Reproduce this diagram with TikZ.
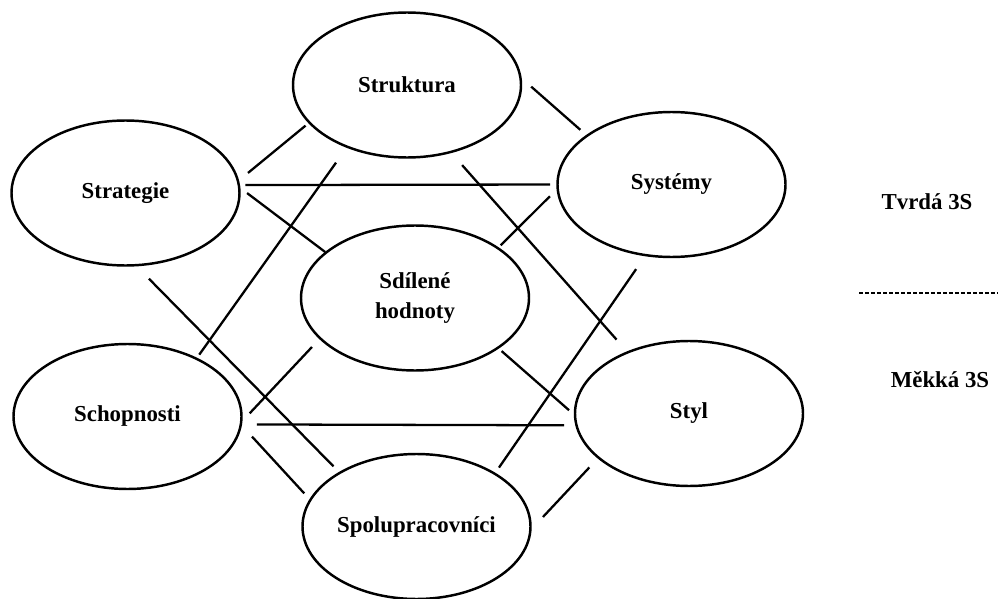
\documentclass[tikz,border=0pt]{standalone}
\usepackage{fontspec}
\setmainfont{Liberation Serif}
\usetikzlibrary{shapes.geometric}

\begin{document}
\begin{tikzpicture}[
    oval/.style={ellipse, draw, line width=1.4pt, minimum width=4.56cm, minimum height=2.9cm, inner sep=0pt, outer sep=0pt, font=\bfseries\fontsize{13}{17}\selectfont, align=center},
    conn/.style={line width=1.3pt},
    side/.style={font=\bfseries\fontsize{13}{15}\selectfont}
  ]
  \useasboundingbox (0,0) rectangle (19.96,-11.98);

  % 楕円
  \node [oval] (struk) at (8.14,-1.70) {Struktura};
  \node [oval] (strat) at (2.51,-3.86) {Strategie};
  \node [oval] (sys)   at (13.43,-3.69) {Systémy};
  \node [oval] (sdil)  at (8.30,-5.96) {Sdílené\\hodnoty};
  \node [oval] (schop) at (2.55,-8.33) {Schopnosti};
  \node [oval] (styl)  at (13.78,-8.27) {Styl};
  \node [oval] (spol)  at (8.33,-10.53) {Spolupracovníci};

  % Strategie から
  \draw [conn, shorten <=0.26cm, shorten >=0.10cm] (strat.6) -- (struk.201.3);
  \draw [conn, shorten <=0.13cm, shorten >=0.15cm] (strat.4.5) -- (sys.180);
  \draw [conn, shorten <=0.20cm, shorten >=0.02cm] (strat.3.6) -- (sdil.153);
  \draw [conn, shorten <=0.38cm, shorten >=0.18cm] (strat.278) -- (spol.145.9);

  % Struktura から
  \draw [conn, shorten <=0.29cm, shorten >=0.18cm] (struk.4.4) -- (sys.150.2);
  \draw [conn, shorten <=0.39cm, shorten >=0.10cm] (struk.226.8) -- (schop.40.9);
  \draw [conn, shorten <=0.35cm, shorten >=0.34cm] (struk.303) -- (styl.135.5);

  % Systémy から
  \draw [conn, shorten <=0.22cm, shorten >=0.08cm] (sys.182) -- (sdil.31.5);
  \draw [conn, shorten <=0.34cm, shorten >=0.15cm] (sys.250.6) -- (spol.34.7);

  % Sdílené hodnoty から
  \draw [conn, shorten <=0.10cm, shorten >=0.16cm] (sdil.329.2) -- (styl.181.5);

  % Schopnosti から
  \draw [conn, shorten <=0.25cm, shorten >=0.24cm] (schop.357.2) -- (sdil.203.9);
  \draw [conn, shorten <=0.32cm, shorten >=0.25cm] (schop.356.8) -- (styl.186.3);
  \draw [conn, shorten <=0.33cm, shorten >=0.18cm] (schop.356.9) -- (spol.166.4);

  % Spolupracovníci から
  \draw [conn, shorten <=0.37cm, shorten >=0.27cm] (spol.358.1) -- (styl.206.5);

  % 右側
  \node [side] (tvrda) at (18.54,-4.04) {Tvrdá 3S};
  \node [side] (mekka) at (18.80,-7.60) {Měkká 3S};
  \coordinate (delA) at (17.18,-5.86);
  \coordinate (delB) at (19.96,-5.86);
  \draw [line width=0.6pt, dash pattern=on 0.08cm off 0.04cm] (delA) -- (delB);

\end{tikzpicture}
\end{document}
